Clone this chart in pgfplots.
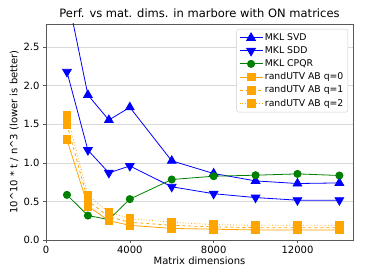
\documentclass[border=0pt]{standalone}
\usepackage{fontspec}
\setmainfont{DejaVu Sans}
\usepackage{pgfplots}
\pgfplotsset{compat=1.18}
\definecolor{mplorange}{rgb}{1,0.647,0}
\definecolor{mplgreen}{rgb}{0,0.5,0}
\definecolor{framec}{rgb}{0.35,0.35,0.35}
\begin{document}
\begin{tikzpicture}
\path[use as bounding box] (-46pt,-40pt) rectangle (328pt,240pt);
\begin{axis}[
  at={(0pt,0pt)}, anchor=south west,
  scale only axis, width=307pt, height=216pt,
  xmin=0, xmax=14650, ymin=0, ymax=2.8,
  xtick={0,4000,8000,12000},
  ytick={0,0.5,1.0,1.5,2.0,2.5},
  yticklabel style={/pgf/number format/fixed,/pgf/number format/fixed zerofill,/pgf/number format/precision=1},
  xticklabel style={/pgf/number format/set thousands separator={}},
  scaled x ticks=false,
  /pgf/number format/assume math mode=true,
  tick label style={font=\fontsize{10}{12}\selectfont, text=black},
  ymajorgrids, grid style={gray!30, line width=0.6pt},
  axis line style={framec, line width=0.8pt},
  tick style={framec, line width=0.6pt},
  tick align=outside, major tick length=3pt,
  xtick pos=bottom, ytick pos=left,
  title={Perf. vs mat. dims. in marbore with ON matrices},
  title style={font=\fontsize{11.5}{13}\selectfont, yshift=-3pt},
  xlabel={Matrix dimensions},
  ylabel={10\textasciicircum 10 * t / n\textasciicircum 3 (lower is better)},
  label style={font=\fontsize{10}{12}\selectfont},
  xlabel style={yshift=4pt},
  ylabel style={yshift=-2pt},
  legend style={at={(0.984,0.977)}, anchor=north east, font=\fontsize{9.3}{11}\selectfont,
    draw=gray!40, rounded corners=2pt, row sep=0.6pt, inner sep=2.5pt},
  legend cell align=left,
  legend image code/.code={\draw[mark repeat=2,mark phase=2] plot coordinates {(0pt,0pt) (11.5pt,0pt) (23pt,0pt)};},
  clip=true,
]
\addplot[blue, line width=0.8pt, mark=triangle*, mark size=5pt, mark options={solid}] coordinates {
(1000,3.2) (2000,1.88) (3000,1.555) (4000,1.72) (6000,1.026) (8000,0.862) (10000,0.766) (12000,0.732) (14000,0.74)};
\addlegendentry{MKL SVD}
\addplot[blue, line width=0.8pt, mark=triangle*, mark size=5pt, mark options={solid, rotate=180}] coordinates {
(1000,2.18) (2000,1.165) (3000,0.87) (4000,0.96) (6000,0.69) (8000,0.60) (10000,0.55) (12000,0.516) (14000,0.516)};
\addlegendentry{MKL SDD}
\addplot[mplgreen, line width=0.8pt, mark=*, mark size=3.6pt, mark options={solid}] coordinates {
(1000,0.585) (2000,0.317) (3000,0.265) (4000,0.53) (6000,0.784) (8000,0.827) (10000,0.84) (12000,0.857) (14000,0.836)};
\addlegendentry{MKL CPQR}
\addplot[mplorange, line width=0.8pt, mark=square*, mark size=3.9pt, mark options={solid}] coordinates {
(1000,1.30) (2000,0.44) (3000,0.25) (4000,0.19) (6000,0.15) (8000,0.14) (10000,0.13) (12000,0.13) (14000,0.13)};
\addlegendentry{randUTV AB q=0}
\addplot[mplorange, line width=0.8pt, dashed, mark=square*, mark size=3.9pt, mark options={solid}] coordinates {
(1000,1.50) (2000,0.51) (3000,0.30) (4000,0.23) (6000,0.19) (8000,0.17) (10000,0.16) (12000,0.16) (14000,0.16)};
\addlegendentry{randUTV AB q=1}
\addplot[mplorange, line width=0.8pt, dotted, mark=square*, mark size=3.9pt, mark options={solid}] coordinates {
(1000,1.62) (2000,0.58) (3000,0.36) (4000,0.28) (6000,0.23) (8000,0.20) (10000,0.19) (12000,0.19) (14000,0.19)};
\addlegendentry{randUTV AB q=2}
\end{axis}
\end{tikzpicture}
\end{document}
